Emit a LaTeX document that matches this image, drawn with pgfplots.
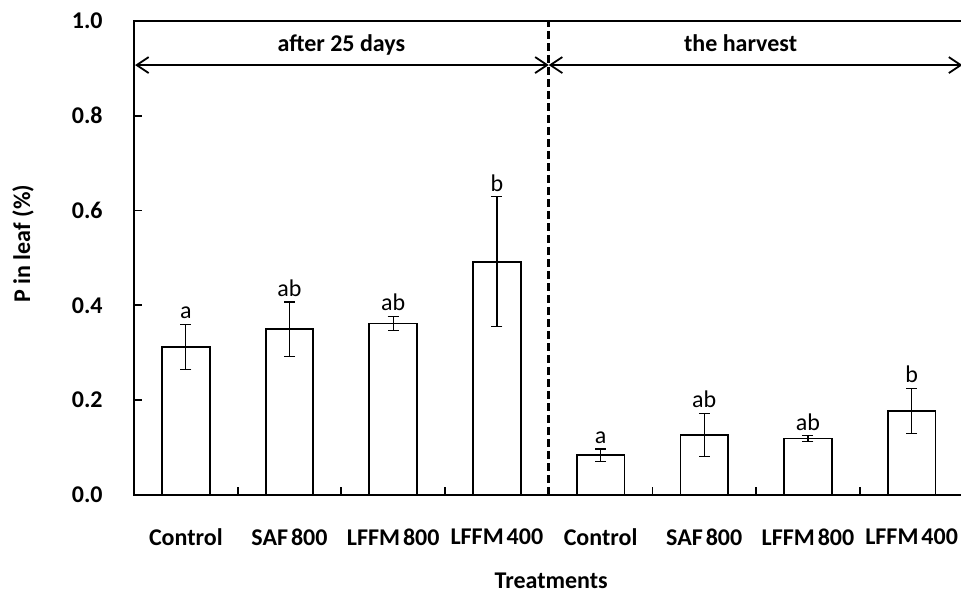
\documentclass[border=0pt]{standalone}
\usepackage{fontspec}
\setmainfont{Carlito}
\usepackage{pgfplots}
\pgfplotsset{compat=1.18}
\usetikzlibrary{arrows.meta}
\begin{document}
\fontsize{12bp}{14bp}\selectfont
\begin{tikzpicture}
\begin{axis}[
  at={(0,0)}, anchor=south west,
  scale only axis, width=414.75bp, height=237bp,
  xmin=-0.5, xmax=7.5, ymin=0, ymax=1,
  axis line style={line width=0.9bp},
  tick align=inside, xtick pos=bottom, ytick pos=left,
  major tick length=4bp,
  tick style={line width=0.9bp, black},
  ytick={0,0.2,0.4,0.6,0.8,1.0},
  yticklabels={0.0,0.2,0.4,0.6,0.8,1.0},
  yticklabel style={anchor=east, inner sep=0pt, xshift=-15.5bp, font=\bfseries},
  xtick={0.5,1.5,2.5,3.5,4.5,5.5,6.5}, xticklabels={},
  extra x ticks={0,1,2,3,4,5,6,7},
  extra x tick labels={Control,SAF\kern1.5bp 800,LFFM\kern1.5bp 800,LFFM\kern1.5bp 400,Control,SAF\kern1.5bp 800,LFFM\kern1.5bp 800,LFFM\kern1.5bp 400},
  extra x tick style={major tick length=0pt, tick label style={anchor=center, yshift=-21bp, font=\bfseries}},
  xlabel={Treatments},
  xlabel style={at={(axis description cs:0.503,-0.1814)}, anchor=center, font=\bfseries},
  ylabel={P in leaf (\%)},
  ylabel style={at={(axis description cs:-0.1338,0.53)}, anchor=center, font=\bfseries},
  clip=false,
]
\addplot[ybar, bar width=0.46, fill=white, draw=black, line width=0.9bp,
  error bars/.cd, y dir=both, y explicit,
  error bar style={line width=0.6bp, black},
  error mark options={rotate=90, line width=0.6bp, mark size=2.75bp, black}]
coordinates {
  (0,0.312) +- (0,0.048)
  (1,0.350) +- (0,0.057)
  (2,0.362) +- (0,0.015)
  (3,0.492) +- (0,0.137)
  (4,0.084) +- (0,0.013)
  (5,0.127) +- (0,0.045)
  (6,0.119) +- (0,0.006)
  (7,0.177) +- (0,0.048)
};
\addplot[draw=none, mark=none, nodes near coords, point meta=explicit symbolic,
  every node near coord/.append style={anchor=south, inner sep=2.5bp, font=\normalfont}]
coordinates {
  (0,0.360) [a]
  (1,0.407) [ab]
  (2,0.377) [ab]
  (3,0.629) [b]
  (4,0.097) [a]
  (5,0.172) [ab]
  (6,0.125) [ab]
  (7,0.225) [b]
};
\draw[line width=1.6bp, dash pattern=on 4bp off 2bp] (axis cs:3.5,0) -- (axis cs:3.5,1);
\draw[line width=0.9bp, {Straight Barb[length=6bp,width=8bp]}-{Straight Barb[length=6bp,width=8bp]}] (axis cs:-0.49,0.907) -- (axis cs:3.5,0.907);
\draw[line width=0.9bp, {Straight Barb[length=6bp,width=8bp]}-{Straight Barb[length=6bp,width=8bp]}] (axis cs:3.5,0.907) -- (axis cs:7.49,0.907);
\node[font=\bfseries] at (axis cs:1.5,0.949) {after 25 days};
\node[font=\bfseries] at (axis cs:5.35,0.953) {the harvest};
\end{axis}
\pgfresetboundingbox
\path[use as bounding box] (-67bp,-50.5bp) rectangle (413.5bp,247.5bp);
\end{tikzpicture}
\end{document}
